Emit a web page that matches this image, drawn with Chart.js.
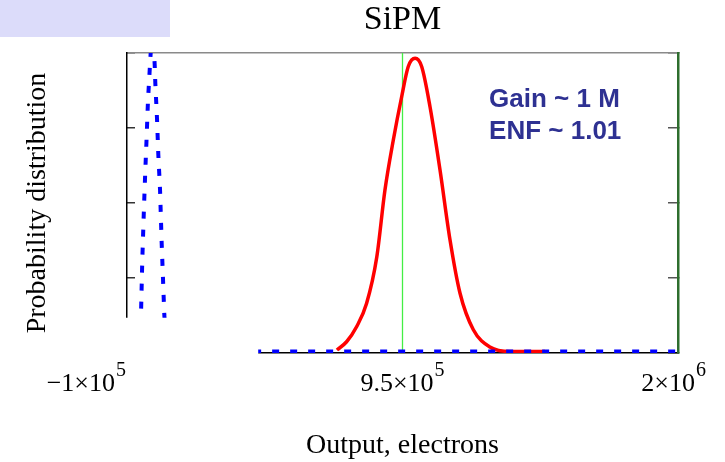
<!DOCTYPE html>
<html>
<head>
<meta charset="utf-8">
<script src="https://cdn.jsdelivr.net/npm/chart.js@4/dist/chart.umd.min.js"></script>
<style>
  html, body { margin: 0; padding: 0; background: #fff; }
  canvas { display: block; }
</style>
</head>
<body>
<canvas id="sipm" width="725" height="462"></canvas>
<script>
/* data (x in electrons, y in arbitrary units, frame top = 4) */
const signalX = [700000, 737000, 775000, 813000, 852000, 883000, 915000, 947000, 972000, 998000,
                 1023000, 1055000, 1093000, 1131000, 1169000, 1220000, 1283000, 1360000, 1493000];
const signalY = [0.04, 0.15, 0.35, 0.66, 1.28, 2.17, 2.84, 3.42, 3.82, 3.93,
                 3.82, 3.28, 2.44, 1.51, 0.80, 0.31, 0.08, 0.02, 0.02];

const pedestalX = [-100000, -58000, -46600, -41700, -35200, -30300, -24900, -20000, -12300, -3000,
                   5600, 7900, 14300, 19300, 26000, 32200, 37200, 42150, 52000, 2000000];
const pedestalY = [0.02, 0.02, 0.52, 1.24, 1.95, 2.43, 2.90, 3.37, 3.85, 4.4,
                   3.84, 3.60, 3.13, 2.65, 2.17, 1.46, 0.99, 0.51, 0.02, 0.02];

const markerX = [950000];

const xTicks = [-100000, 950000, 2000000];
const xTickBase = ['\u22121\u00d710', '9.5\u00d710', '2\u00d710'];
const xTickExp = ['5', '5', '6'];

const notes = ['Gain ~ 1 M', 'ENF ~ 1.01'];

const SERIF = '"Liberation Serif", "Times New Roman", serif';

/* 🔹 decorations: lavender box, mask over bottom-left, notes, tick labels */
const decor = {
  id: 'decor',
  beforeDraw(chart) {
    const ctx = chart.ctx;
    ctx.save();
    ctx.fillStyle = '#dcdcfa';
    ctx.fillRect(0, 0, 170, 37);
    ctx.restore();
  },
  afterDatasetsDraw(chart) {
    const { ctx, scales: { x, y } } = chart;
    ctx.save();
    // the original has a blank patch covering the bottom-left corner
    ctx.fillStyle = '#fff';
    const mx = x.getPixelForValue(400000);
    const my = y.getPixelForValue(0.47);
    ctx.fillRect(x.left - 20, my, mx - x.left + 20, y.bottom - my + 8);

    ctx.fillStyle = '#2e3192';
    ctx.font = 'bold 26px "Liberation Sans", Arial, sans-serif';
    ctx.textBaseline = 'alphabetic';
    ctx.fillText(notes[0], x.getPixelForValue(1280000), y.getPixelForValue(3.28));
    ctx.fillText(notes[1], x.getPixelForValue(1280000), y.getPixelForValue(2.85));
    ctx.restore();
  },
  afterDraw(chart) {
    const { ctx, scales: { x }, chartArea } = chart;
    ctx.save();
    ctx.fillStyle = '#000';
    ctx.textBaseline = 'alphabetic';
    ctx.textAlign = 'left';
    xTicks.forEach((v, i) => {
      const px = x.getPixelForValue(v);
      ctx.font = '26px ' + SERIF;
      const wb = ctx.measureText(xTickBase[i]).width;
      ctx.font = '20px ' + SERIF;
      const we = ctx.measureText(xTickExp[i]).width;
      const w = wb + we + 1;
      let sx = i === 0 ? px - 1 - w : px - w / 2;
      sx = Math.min(sx, chart.width - 19 - w);
      ctx.font = '26px ' + SERIF;
      ctx.fillText(xTickBase[i], sx, chartArea.bottom + 38);
      ctx.font = '20px ' + SERIF;
      ctx.fillText(xTickExp[i], sx + wb + 1, chartArea.bottom + 23);
    });
    ctx.restore();
  }
};

new Chart(document.getElementById('sipm'), {
  type: 'line',
  data: {
    datasets: [{
      label: 'pedestal',
      data: pedestalX.map((v, i) => ({ x: v, y: pedestalY[i] })),
      borderColor: '#0000ff',
      borderWidth: 4,
      borderDash: [7, 11],
      borderCapStyle: 'butt',
      pointRadius: 0,
      tension: 0
    }, {
      label: 'signal',
      data: signalX.map((v, i) => ({ x: v, y: signalY[i] })),
      borderColor: '#ff0000',
      borderWidth: 3.5,
      pointRadius: 0,
      cubicInterpolationMode: 'monotone'
    }, {
      label: 'gain',
      data: [{ x: markerX[0], y: 0 }, { x: markerX[0], y: 4 }],
      borderColor: '#44ee44',
      borderWidth: 1.3,
      pointRadius: 0
    }]
  },
  options: {
    responsive: false,
    devicePixelRatio: 1,
    animation: false,
    layout: { padding: 0 },
    plugins: {
      legend: { display: false },
      tooltip: { enabled: false },
      title: {
        display: true,
        text: 'SiPM',
        fullSize: false,
        color: '#000',
        font: { family: SERIF, size: 34, weight: 'normal', lineHeight: 1 },
        padding: { top: 3.5, bottom: 15.5 }
      }
    },
    scales: {
      x: {
        type: 'linear',
        position: 'bottom',
        min: -100000,
        max: 2000000,
        ticks: { display: false },
        grid: { display: false },
        border: { color: '#000', width: 1.5 },
        title: {
          display: true,
          text: 'Output, electrons',
          color: '#000',
          font: { family: SERIF, size: 28, lineHeight: 1 },
          padding: { top: 0, bottom: 2.5 }
        },
        afterFit: s => { s.height = 109; }
      },
      xTop: {
        type: 'linear',
        position: 'top',
        min: -100000,
        max: 2000000,
        ticks: { display: false },
        grid: { display: false },
        border: { color: '#8a8a8a', width: 1.5 },
        afterFit: s => { s.height = 0; }
      },
      y: {
        type: 'linear',
        position: 'left',
        min: 0,
        max: 4,
        ticks: { display: false, stepSize: 1 },
        grid: { drawOnChartArea: false, drawTicks: true, tickLength: -8, color: '#333', lineWidth: 1.5 },
        border: { color: '#000', width: 1.5 },
        title: {
          display: true,
          text: 'Probability distribution',
          color: '#000',
          font: { family: SERIF, size: 28, lineHeight: 1 },
          padding: { top: 24, bottom: 0 }
        },
        afterFit: s => { s.width = 127; }
      },
      y2: {
        type: 'linear',
        position: 'right',
        min: 0,
        max: 4,
        ticks: { display: false, stepSize: 1 },
        grid: { drawOnChartArea: false, drawTicks: true, tickLength: -10, color: '#555', lineWidth: 1.5 },
        border: { color: '#2e6e2e', width: 2.5 },
        afterFit: s => { s.width = 47; }
      }
    }
  },
  plugins: [decor]
});
</script>
</body>
</html>
